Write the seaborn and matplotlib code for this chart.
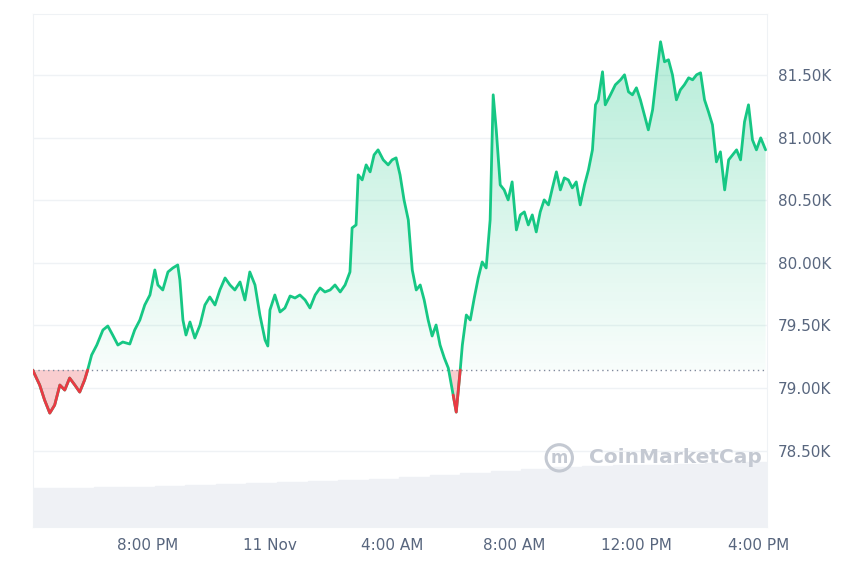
import numpy as np
import pandas as pd
import matplotlib.pyplot as plt
from matplotlib.path import Path
import seaborn as sns

# hours since start of window (~4:13 PM, 10 Nov)
hours = [0, .23, .39, .56, .72, .89, 1.05, 1.21, 1.38, 1.54, 1.70, 1.80, 1.93, 2.10, 2.30, 2.46, 2.62, 2.79, 2.95, 3.18,
         3.34, 3.51, 3.67, 3.84, 4.00, 4.10, 4.26, 4.43, 4.59, 4.75, 4.82, 4.92, 5.02, 5.15, 5.31, 5.48, 5.64, 5.80, 5.97, 6.13,
         6.30, 6.46, 6.62, 6.79, 6.95, 7.11, 7.28, 7.44, 7.61, 7.70, 7.77, 7.93, 8.10, 8.26, 8.43, 8.59, 8.75, 8.92, 9.08, 9.25,
         9.41, 9.57, 9.74, 9.90, 10.07, 10.23, 10.39, 10.46, 10.59, 10.66, 10.79, 10.92, 11.05, 11.18, 11.31, 11.48, 11.64, 11.77, 11.90, 12.03,
         12.16, 12.30, 12.43, 12.56, 12.69, 12.82, 12.95, 13.08, 13.21, 13.34, 13.48, 13.61, 13.77, 13.87, 14.00, 14.07, 14.20, 14.33, 14.46, 14.59,
         14.72, 14.85, 14.98, 15.08, 15.18, 15.31, 15.44, 15.57, 15.70, 15.84, 15.97, 16.10, 16.23, 16.36, 16.49, 16.62, 16.75, 16.89, 17.02, 17.15,
         17.28, 17.41, 17.54, 17.67, 17.80, 17.93, 18.07, 18.20, 18.33, 18.43, 18.52, 18.66, 18.75, 18.92, 19.08, 19.25, 19.38, 19.51, 19.64, 19.77,
         19.90, 20.03, 20.16, 20.30, 20.43, 20.56, 20.69, 20.82, 20.95, 21.08, 21.21, 21.34, 21.48, 21.61, 21.74, 21.87, 22.00, 22.13, 22.26, 22.39,
         22.52, 22.66, 22.79, 22.92, 23.05, 23.18, 23.31, 23.44, 23.57, 23.70, 23.84, 24.00]
prices = [79144, 79024, 78904, 78800, 78864, 79024, 78984, 79080, 79024, 78968, 79064, 79144, 79264, 79344, 79464, 79496, 79424, 79344, 79368, 79352,
          79464, 79544, 79664, 79744, 79944, 79824, 79784, 79928, 79960, 79984, 79864, 79544, 79424, 79528, 79400, 79504, 79664, 79728, 79664, 79784,
          79880, 79824, 79784, 79848, 79704, 79928, 79824, 79584, 79384, 79336, 79624, 79744, 79608, 79640, 79736, 79720, 79744, 79704, 79640, 79744,
          79800, 79768, 79784, 79824, 79768, 79824, 79928, 80280, 80304, 80704, 80664, 80784, 80728, 80864, 80904, 80824, 80784, 80824, 80840, 80704,
          80504, 80344, 79944, 79784, 79824, 79704, 79544, 79416, 79504, 79344, 79240, 79160, 78944, 78808, 79144, 79344, 79584, 79544, 79720, 79880,
          80008, 79960, 80344, 81344, 81064, 80624, 80584, 80504, 80648, 80264, 80384, 80408, 80304, 80384, 80248, 80408, 80504, 80464, 80600, 80728,
          80584, 80680, 80664, 80600, 80648, 80464, 80624, 80744, 80904, 81264, 81304, 81528, 81264, 81344, 81424, 81464, 81504, 81368, 81344, 81400,
          81304, 81184, 81064, 81224, 81504, 81768, 81608, 81624, 81504, 81304, 81384, 81424, 81480, 81464, 81504, 81520, 81304, 81208, 81104, 80808,
          80888, 80584, 80824, 80864, 80904, 80824, 81128, 81264, 80984, 80904, 81000, 80904]
base_price = 79144

vol_hours = list(range(24))
volume = [39, 39, 40, 40, 41, 42, 43, 44, 45, 46, 47, 48, 50, 52, 54, 56, 58, 60, 61, 62, 62, 63, 64, 65]

tick_hours = [3.77, 7.77, 11.77, 15.77, 19.77, 23.77]
tick_labels = ['8:00 PM', '11 Nov', '4:00 AM', '8:00 AM', '12:00 PM', '4:00 PM']
y_ticks = [78500, 79000, 79500, 80000, 80500, 81000, 81500]

df = pd.DataFrame({'h': hours, 'p': prices})
x = df['h'].to_numpy()
p = df['p'].to_numpy(dtype=float)

sns.set_style('white')
fig = plt.figure(figsize=(8.6, 5.73), dpi=100)
ax = fig.add_axes([0.038, 0.080, 0.854, 0.896])
ymin, ymax = 77888, 81992

# volume bars on hidden twin axis
axv = ax.twinx()
axv.bar(np.array(vol_hours) + 0.5, volume, width=1.0, color='#eff1f5', edgecolor='#eff1f5')
axv.set_ylim(0, 513)
axv.axis('off')
ax.set_zorder(axv.get_zorder() + 1)
ax.patch.set_visible(False)

# green gradient fill above baseline
pos = np.maximum(p, base_price)
verts = np.vstack([np.column_stack([x, pos]), [[x[-1], base_price], [x[0], base_price]]])
clip = Path(verts, closed=True)
grad = np.linspace(0.32, 0.03, 256).reshape(-1, 1)
rgba = np.zeros((256, 1, 4))
rgba[..., 0], rgba[..., 1], rgba[..., 2] = 0.09, 0.78, 0.52
rgba[..., 3] = grad
im = ax.imshow(rgba, extent=[0, 24, base_price, 81800], aspect='auto', origin='upper', zorder=1)
im.set_clip_path(clip, transform=ax.transData)
ax.fill_between(x, p, base_price, where=p < base_price, interpolate=True, color='#ea3943', alpha=0.25, lw=0)

sns.lineplot(x=x, y=p, ax=ax, color='#16c784', lw=2, zorder=3)
ax.plot(x, np.where(p <= base_price, p, np.nan), color='#ea3943', lw=2, zorder=4)
ax.axhline(base_price, color='#808a9d', ls=(0, (1, 2.5)), lw=1, zorder=2)

ax.set_xlim(0, 24.05)
ax.set_ylim(ymin, ymax)
ax.yaxis.tick_right()
ax.set_yticks(y_ticks)
ax.set_yticklabels([f'{v/1000:.2f}K' for v in y_ticks])
ax.set_xticks(tick_hours)
ax.set_xticklabels(tick_labels)
ax.tick_params(colors='#58667e', labelsize=11, length=0, pad=8)
ax.grid(axis='y', color='#eff2f5', lw=1)
for s in ['top', 'left', 'right', 'bottom']:
    ax.spines[s].set_color('#eff2f5')
ax.set_xlabel('')
ax.set_ylabel('')

ax.text(0.757, 0.135, 'CoinMarketCap', transform=ax.transAxes, fontsize=14.5, fontweight='bold',
        color='#c4c9d2', va='center', ha='left')
ax.text(0.717, 0.135, 'm', transform=ax.transAxes, fontsize=12, fontweight='bold', color='#c4c9d2',
        va='center', ha='center',
        bbox=dict(boxstyle='circle,pad=0.25', fc='none', ec='#c4c9d2', lw=2.2))

fig.savefig('out.png', dpi=100)
